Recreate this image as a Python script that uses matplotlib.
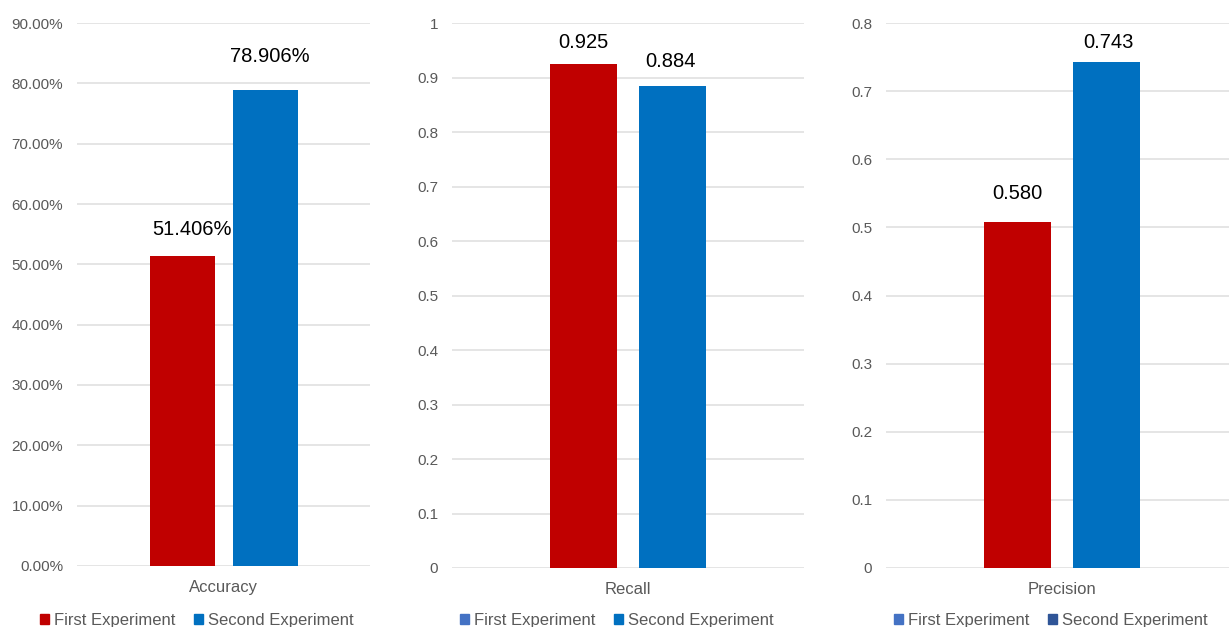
import matplotlib
matplotlib.use("Agg")
import numpy as np
from matplotlib import pyplot as plt
from matplotlib.patches import Patch
from matplotlib.ticker import FuncFormatter

# metric values
metrics = ["Accuracy", "Recall", "Precision"]
series = ["First Experiment", "Second Experiment"]
accuracy = [51.406, 78.906]          # percent
recall = [0.925, 0.884]
precision = [0.508, 0.743]
# labels as printed on the original (first precision label differs from its bar)
accuracy_labels = ["51.406%", "78.906%"]
recall_labels = ["0.925", "0.884"]
precision_labels = ["0.580", "0.743"]

RED = "#C00000"
BLUE = "#0070C0"
GRID = "#DEDEDE"
TXT = "#595959"

plt.rcParams["font.family"] = ["Liberation Sans", "DejaVu Sans"]

fig = plt.figure(figsize=(12.29, 6.27), dpi=100)

# panel layout in figure fractions: left, bottom, width, height
panels = [
    dict(rect=[0.0627, 0.0973, 0.2384, 0.866], vals=accuracy, labels=accuracy_labels,
         ymax=90, step=10, fmt=lambda v, p: "%.2f%%" % v,
         width=0.222, off=0.1416,
         lab_off=[(10, 26), (5, 33)],
         legend_colors=[RED, BLUE], legend_x=0.160),
    dict(rect=[0.3678, 0.0941, 0.2864, 0.869], vals=recall, labels=recall_labels,
         ymax=1.0, step=0.1, fmt=lambda v, p: "%g" % round(v, 2),
         width=0.19, off=0.126,
         lab_off=[(0, 22), (-2, 25)],
         legend_colors=["#4472C4", BLUE], legend_x=0.5020),
    dict(rect=[0.7209, 0.0941, 0.2864, 0.869], vals=precision, labels=precision_labels,
         ymax=0.8, step=0.1, fmt=lambda v, p: "%g" % round(v, 2),
         width=0.19, off=0.126,
         lab_off=[(0, 29), (2, 19)],
         legend_colors=["#4472C4", "#2F5597"], legend_x=0.8550),
]

for name, pn in zip(metrics, panels):
    ax = fig.add_axes(pn["rect"])
    xs = [-pn["off"], pn["off"]]
    bars = ax.bar(xs, pn["vals"], width=pn["width"], color=[RED, BLUE], zorder=3)
    ax.set_xlim(-0.5, 0.5)
    ax.set_ylim(0, pn["ymax"])
    ax.set_yticks(np.arange(0, pn["ymax"] + pn["step"] / 2, pn["step"]))
    ax.yaxis.set_major_formatter(FuncFormatter(pn["fmt"]))
    ax.set_xticks([0])
    ax.set_xticklabels([name])
    ax.tick_params(axis="both", length=0, colors=TXT, labelsize=11)
    ax.tick_params(axis="y", pad=10)
    ax.tick_params(axis="x", pad=10, labelsize=12)
    for s in ax.spines.values():
        s.set_visible(False)
    ax.grid(axis="y", color=GRID, linewidth=1.1, zorder=0)
    ax.set_axisbelow(True)
    for b, txt, (dx, dy) in zip(bars, pn["labels"], pn["lab_off"]):
        ax.annotate(txt, (b.get_x() + b.get_width() / 2, b.get_height()),
                    xytext=(dx * 0.72, dy * 0.72), textcoords="offset points",
                    ha="center", va="center", fontsize=14.5, color="black")
    handles = [Patch(color=c, label=l) for c, l in zip(pn["legend_colors"], series)]
    fig.legend(handles=handles, loc="center", bbox_to_anchor=(pn["legend_x"], 0.010),
               ncol=2, frameon=False, fontsize=12, labelcolor=TXT,
               handlelength=0.55, handleheight=0.55, handletextpad=0.3,
               columnspacing=1.1, borderaxespad=0)

fig.savefig("out.png", dpi=100)
